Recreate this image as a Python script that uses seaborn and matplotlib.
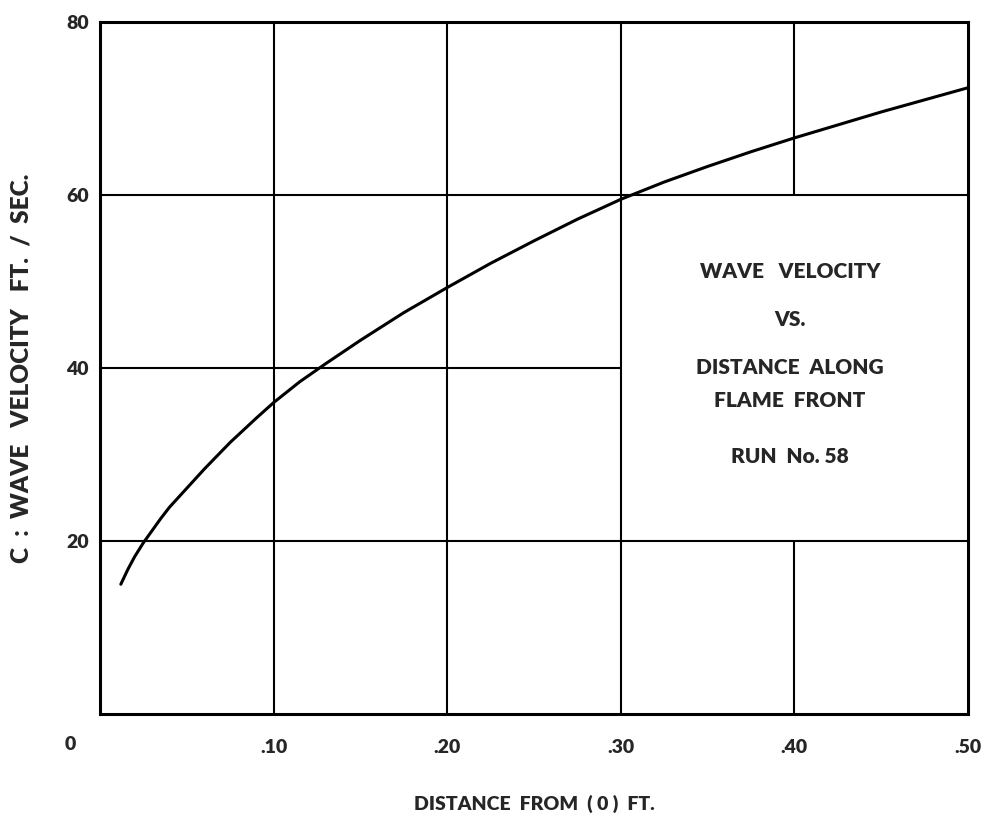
import matplotlib
matplotlib.use("Agg")
import matplotlib.pyplot as plt
import seaborn as sns
import pandas as pd

# ---- data ----
distance = [0.012, 0.016, 0.02, 0.025, 0.03, 0.035, 0.04, 0.05, 0.06, 0.075, 0.09, 0.10, 0.115, 0.13, 0.15,
            0.175, 0.20, 0.225, 0.25, 0.275, 0.30, 0.325, 0.35, 0.375, 0.40, 0.45, 0.50]
velocity = [15.0, 16.7, 18.2, 19.8, 21.2, 22.6, 23.9, 26.1, 28.3, 31.4, 34.2, 36.0, 38.4, 40.5, 43.2,
            46.4, 49.3, 52.1, 54.7, 57.2, 59.5, 61.5, 63.3, 65.0, 66.6, 69.6, 72.4]
x_ticks = [0.10, 0.20, 0.30, 0.40, 0.50]
x_tick_labels = [".10", ".20", ".30", ".40", ".50"]
y_ticks = [20, 40, 60, 80]
y_tick_labels = ["20", "40", "60", "80"]
title_lines = ["WAVE   VELOCITY", "VS.", "DISTANCE  ALONG", "FLAME  FRONT", "RUN  No. 58"]
title_y = [51.2, 45.6, 40.0, 36.3, 29.8]
x_label = "DISTANCE  FROM  ( 0 )  FT."
y_label = "C  :  WAVE   VELOCITY   FT.  /  SEC."

# grid segments: (value, start, end)
h_grid = [(20, 0.0, 0.50), (40, 0.0, 0.30), (60, 0.0, 0.50)]
v_grid = [(0.10, 0, 80), (0.20, 0, 80), (0.30, 0, 80), (0.40, 0, 20), (0.40, 60, 80)]

sns.set_theme(style="white")
plt.rcParams["font.family"] = ["Lato", "DejaVu Sans"]
W = "heavy"

fig = plt.figure(figsize=(9.83, 8.16), dpi=100)
ax = fig.add_axes([100 / 983, 1 - 714 / 816, 868 / 983, 692 / 816])

for yv, x0, x1 in h_grid:
    ax.plot([x0, x1], [yv, yv], color="black", lw=1.5, zorder=1)
for xv, y0, y1 in v_grid:
    ax.plot([xv, xv], [y0, y1], color="black", lw=1.5, zorder=1)

df = pd.DataFrame({"distance": distance, "velocity": velocity})
sns.lineplot(data=df, x="distance", y="velocity", ax=ax, color="black", lw=2.2, zorder=3)

ax.set_xlim(0, 0.50)
ax.set_ylim(0, 80)
ax.set_xticks(x_ticks)
ax.set_xticklabels(x_tick_labels, fontsize=14, fontweight=W)
ax.set_yticks(y_ticks)
ax.set_yticklabels(y_tick_labels, fontsize=14, fontweight=W)
ax.tick_params(axis="x", length=0, pad=18)
ax.tick_params(axis="y", length=0, pad=8)
for s in ax.spines.values():
    s.set_color("black")
    s.set_linewidth(2.2)
    s.set_visible(True)

ax.annotate("0", xy=(0, 0), xycoords="data", xytext=(-30, -31), textcoords="offset pixels",
            ha="center", va="center", fontsize=14, fontweight=W)

for t, yv in zip(title_lines, title_y):
    ax.text(0.3975, yv, t, ha="center", va="center", fontsize=15, fontweight=W)

ax.set_xlabel(x_label, fontsize=14, fontweight=W, labelpad=28)
ax.set_ylabel(y_label, fontsize=17.5, fontweight=W, labelpad=24)

fig.savefig("out.png", dpi=100, facecolor="white")
